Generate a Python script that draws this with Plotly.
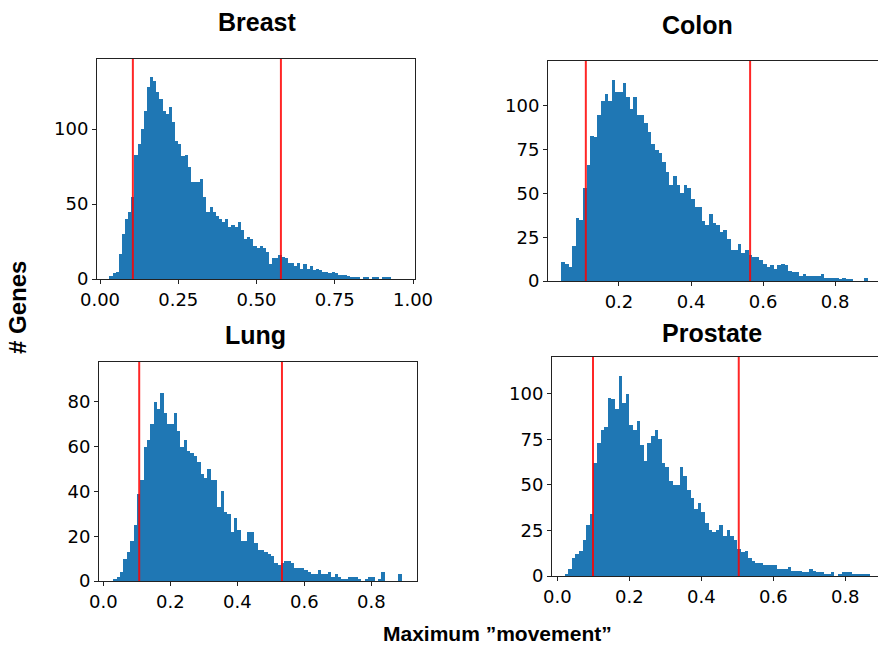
import plotly.graph_objects as go

# ---------------- data (bin start, bin width, counts per bin) ----------------
bin_width = 0.01

breast_start = 0.03
breast_counts = [2, 4, 5, 17, 30, 40, 45, 55, 83, 90, 100, 112, 128, 135, 132, 125, 120, 112, 110, 115,
                 105, 92, 90, 82, 83, 75, 65, 65, 65, 67, 55, 45, 48, 45, 42, 40, 38, 40, 35, 36,
                 35, 38, 33, 27, 28, 27, 22, 21, 22, 21, 18, 10, 14, 14, 16, 15, 14, 11, 11, 9,
                 11, 7, 10, 7, 9, 6, 7, 6, 5, 5, 4, 5, 4, 3, 3, 3, 2, 1, 1, 1,
                 0, 1, 1, 0, 1, 1, 0, 1, 1, 1]

colon_start = 0.04
colon_counts = [11, 10, 8, 20, 36, 35, 53, 66, 83, 82, 95, 103, 107, 103, 115, 108, 108, 113, 105, 98,
                105, 95, 95, 90, 85, 78, 75, 73, 68, 62, 55, 60, 55, 50, 55, 53, 47, 42, 42, 34,
                32, 38, 33, 32, 28, 29, 24, 18, 18, 21, 16, 18, 15, 14, 14, 12, 10, 8, 9, 7,
                9, 10, 9, 6, 5, 5, 3, 4, 3, 3, 3, 3, 4, 2, 2, 2, 2, 1, 2, 1,
                1, 0, 0, 0, 2]

lung_start = 0.03
lung_counts = [1, 2, 4, 10, 13, 18, 25, 39, 45, 60, 63, 70, 80, 77, 84, 75, 70, 70, 75, 67,
               60, 63, 58, 57, 56, 53, 48, 46, 50, 45, 45, 33, 40, 31, 30, 22, 28, 23, 18, 18,
               22, 22, 17, 14, 14, 13, 12, 11, 8, 7, 8, 9, 9, 8, 6, 6, 6, 5, 4, 3,
               3, 5, 3, 3, 4, 2, 3, 2, 1, 1, 2, 2, 2, 1, 0, 1, 2, 2, 0, 1,
               4, 0, 0, 0, 0, 3]

prostate_start = 0.02
prostate_counts = [1, 4, 10, 12, 14, 20, 28, 34, 62, 73, 80, 82, 98, 97, 92, 110, 95, 100, 83, 80,
                   85, 72, 63, 73, 77, 80, 75, 62, 60, 52, 50, 50, 60, 55, 47, 43, 37, 40, 35, 29,
                   25, 24, 25, 28, 22, 25, 22, 20, 15, 13, 14, 10, 8, 7, 7, 6, 6, 6, 6, 4,
                   4, 4, 5, 3, 3, 3, 2, 2, 4, 3, 2, 2, 1, 1, 2, 0, 1, 2, 2, 2,
                   1, 1, 1, 1, 1]

panel_titles = ["Breast", "Colon", "Lung", "Prostate"]
red_lines = [[0.105, 0.578], [0.108, 0.564], [0.107, 0.533], [0.099, 0.504]]

x_ranges = [[-0.0096, 1.0064], [0.003, 0.919], [-0.013, 0.936], [-0.015, 0.891]]
y_ranges = [[0, 146.7], [0, 125.7], [0, 97.8], [0, 120.3]]
x_tickvals = [[0.0, 0.25, 0.5, 0.75, 1.0], [0.2, 0.4, 0.6, 0.8],
              [0.0, 0.2, 0.4, 0.6, 0.8], [0.0, 0.2, 0.4, 0.6, 0.8]]
x_tickformats = [".2f", ".1f", ".1f", ".1f"]
y_tickvals = [[0, 50, 100], [0, 25, 50, 75, 100], [0, 20, 40, 60, 80], [0, 25, 50, 75, 100]]

y_label = "# Genes"
x_label = "Maximum \u201dmovement\u201d"

# ---------------- layout geometry ----------------
W, H = 878, 647
boxes = [  # left, right, top, bottom in pixels
    (97, 415, 59, 279),
    (548, 878, 61, 281),
    (99, 417, 362, 581),
    (552, 878, 357, 576),
]
title_pos = [(257, 22), (697, 25), (255, 335), (712, 333)]

starts = [breast_start, colon_start, lung_start, prostate_start]
counts = [breast_counts, colon_counts, lung_counts, prostate_counts]

fig = go.Figure()
layout = dict(
    template="none",
    width=W, height=H, autosize=False,
    margin=dict(l=0, r=0, t=0, b=0, pad=0),
    paper_bgcolor="white", plot_bgcolor="white",
    showlegend=False, bargap=0,
)

shapes = []
annotations = []
for i in range(4):
    n = i + 1
    xa = "x" if n == 1 else f"x{n}"
    ya = "y" if n == 1 else f"y{n}"
    centers = [starts[i] + bin_width * (k + 0.5) for k in range(len(counts[i]))]
    fig.add_trace(go.Bar(
        x=centers, y=counts[i], width=bin_width,
        marker=dict(color="#1f77b4", line=dict(width=0)),
        xaxis=xa, yaxis=ya, hoverinfo="skip",
    ))
    l, r, t, b = boxes[i]
    common = dict(
        showline=True, mirror=True, linecolor="#222", linewidth=1,
        ticks="outside", ticklen=4, tickwidth=1, tickcolor="#222",
        showgrid=False, zeroline=False, automargin=False,
        tickfont=dict(family="DejaVu Sans", size=18, color="black"),
    )
    layout["xaxis" if n == 1 else f"xaxis{n}"] = dict(
        common, domain=[l / W, r / W], range=x_ranges[i], anchor=ya,
        tickvals=x_tickvals[i], tickformat=x_tickformats[i],
    )
    layout["yaxis" if n == 1 else f"yaxis{n}"] = dict(
        common, domain=[1 - b / H, 1 - t / H], range=y_ranges[i], anchor=xa,
        tickvals=y_tickvals[i],
    )
    for xv in red_lines[i]:
        shapes.append(dict(
            type="line", xref=xa, yref=f"{ya} domain", x0=xv, x1=xv, y0=0, y1=1,
            line=dict(color="rgba(255,0,0,0.85)", width=2),
        ))
    tx, ty = title_pos[i]
    annotations.append(dict(
        text=f"<b>{panel_titles[i]}</b>", xref="paper", yref="paper",
        x=tx / W, y=1 - ty / H, xanchor="center", yanchor="middle", showarrow=False,
        font=dict(family="Liberation Sans", size=25, color="black"),
    ))

annotations.append(dict(
    text=f"<b>{y_label}</b>", xref="paper", yref="paper",
    x=17 / W, y=1 - 308 / H, xanchor="center", yanchor="middle", showarrow=False,
    textangle=-90, font=dict(family="Liberation Sans", size=24, color="black"),
))
annotations.append(dict(
    text=f"<b>{x_label}</b>", xref="paper", yref="paper",
    x=497 / W, y=0, xanchor="center", yanchor="bottom", showarrow=False,
    font=dict(family="Liberation Sans", size=21, color="black"),
))

layout["shapes"] = shapes
layout["annotations"] = annotations
fig.update_layout(**layout)
fig.write_html("out.html")
